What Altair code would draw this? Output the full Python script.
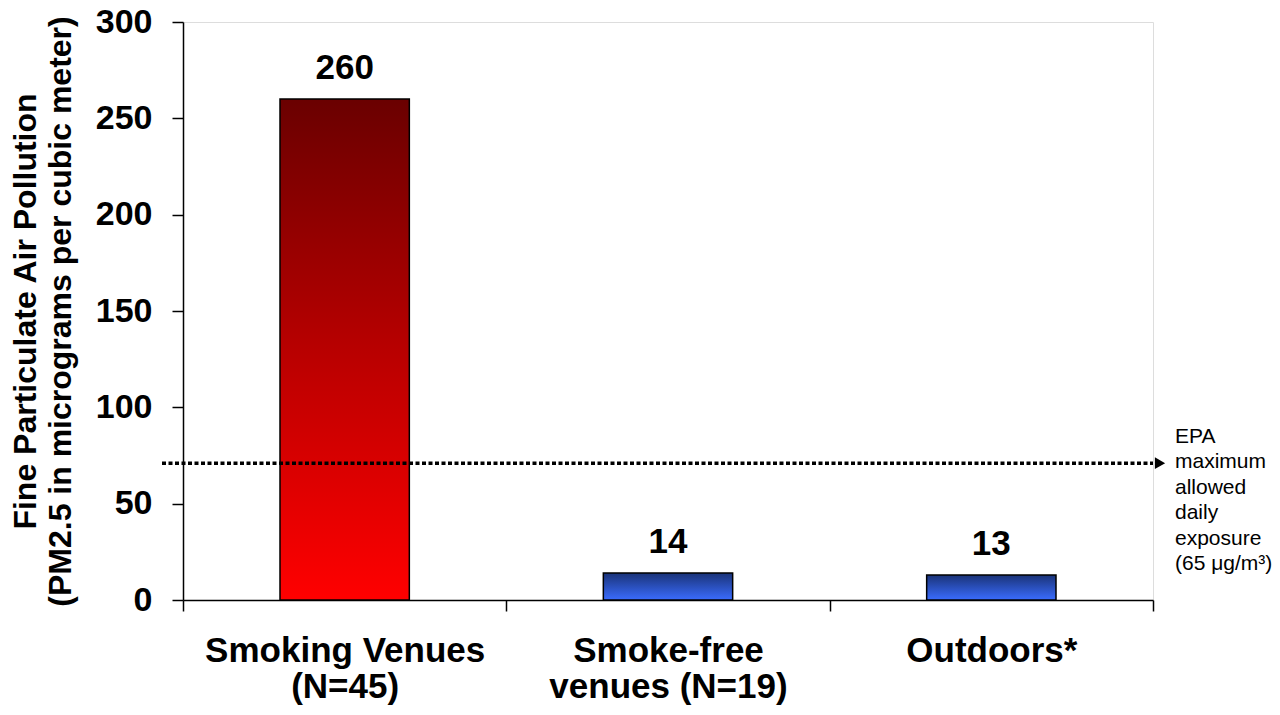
import altair as alt
import pandas as pd

# ---- data ----
categories = ["Smoking Venues|(N=45)", "Smoke-free|venues (N=19)", "Outdoors*"]
values = [260, 14, 13]
groups = ["smoking", "smokefree", "smokefree"]
y_ticks = [0, 50, 100, 150, 200, 250, 300]
epa_line_value = [71]          # where the dotted reference line is drawn
epa_lines = ["EPA", "maximum", "allowed", "daily", "exposure", "(65 \u03bcg/m\u00b3)"]
y_title = ["Fine Particulate Air Pollution", "(PM2.5 in micrograms per cubic meter)"]

FONT = "Liberation Sans, Arial, Helvetica, sans-serif"

df = pd.DataFrame({"cat": categories, "value": values, "group": groups})
epa_df = pd.DataFrame({"y": epa_line_value})

x_enc = alt.X(
    "cat:N",
    sort=categories,
    scale=alt.Scale(paddingInner=0, paddingOuter=0),
    axis=alt.Axis(
        title=None,
        labelAngle=0,
        labelExpr="split(datum.label, '|')",
        labelFont=FONT,
        labelFontSize=35,
        labelFontWeight="bold",
        labelColor="black",
        labelLineHeight=36,
        labelPadding=22,
        labelLimit=0,
        tickBand="extent",
        tickSize=11,
        tickColor="black",
        tickWidth=1.5,
        domainColor="black",
        domainWidth=1.5,
        grid=False,
    ),
)
y_enc = alt.Y(
    "value:Q",
    scale=alt.Scale(domain=[0, 300], nice=False),
    axis=alt.Axis(
        title=y_title,
        titleFont=FONT,
        titleFontSize=32,
        titleFontWeight="bold",
        titleColor="black",
        titleLineHeight=35,
        titleX=-148,
        titleY=289,
        titleAngle=-90,
        titleAlign="center",
        titleBaseline="alphabetic",
        titleLimit=0,
        values=y_ticks,
        labelFont=FONT,
        labelFontSize=34,
        labelFontWeight="bold",
        labelColor="black",
        labelPadding=20,
        tickSize=11,
        tickColor="black",
        tickWidth=1.5,
        domainColor="black",
        domainWidth=1.5,
        grid=False,
    ),
)

red_grad = alt.LinearGradient(
    gradient="linear", x1=0, y1=0, x2=0, y2=1,
    stops=[alt.GradientStop(offset=0, color="#6a0000"),
           alt.GradientStop(offset=0.5, color="#b80000"),
           alt.GradientStop(offset=1, color="#ff0000")],
)
blue_grad = alt.LinearGradient(
    gradient="linear", x1=0, y1=0, x2=0, y2=1,
    stops=[alt.GradientStop(offset=0, color="#1a3378"),
           alt.GradientStop(offset=1, color="#3a6cff")],
)

base = alt.Chart(df)

red_bars = base.transform_filter(alt.datum.group == "smoking").mark_bar(
    color=red_grad, stroke="black", strokeWidth=1.5, width=alt.RelativeBandSize(0.4)
).encode(x=x_enc, y=y_enc)

blue_bars = base.transform_filter(alt.datum.group == "smokefree").mark_bar(
    color=blue_grad, stroke="black", strokeWidth=1.5, width=alt.RelativeBandSize(0.4)
).encode(x=x_enc, y=y_enc)

labels = base.mark_text(
    font=FONT, fontSize=35, fontWeight="bold", color="black",
    baseline="alphabetic", dy=-20,
).encode(x=alt.X("cat:N", sort=categories), y="value:Q", text="value:Q")

epa_rule = alt.Chart(epa_df).mark_rule(
    color="black", strokeWidth=3.5, strokeDash=[4, 2.5]
).encode(x=alt.value(-21), x2=alt.value(970), y="y:Q")

epa_arrow = alt.Chart(epa_df).mark_point(
    shape="triangle-right", filled=True, color="black", size=140, opacity=1
).encode(x=alt.value(977), y="y:Q")

epa_text = alt.Chart(epa_df).mark_text(
    text=epa_lines, font=FONT, fontSize=21, color="black",
    align="left", baseline="middle", lineHeight=25.4,
).encode(x=alt.value(992), y=alt.value(415))

chart = alt.layer(red_bars, blue_bars, labels, epa_rule, epa_arrow, epa_text).properties(
    width=970, height=578,
    padding={"left": 175, "top": 14, "right": 119, "bottom": 105},
    autosize="none",
).configure_view(stroke="black", strokeWidth=1.5).configure(background="white")

chart.save("out.html", embed_options={"renderer": "svg", "actions": False})
